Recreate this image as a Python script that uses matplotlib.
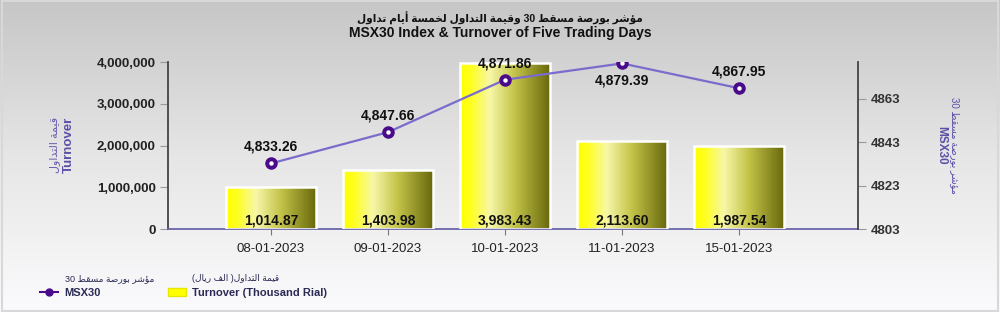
import re
import numpy as np
import matplotlib
matplotlib.use('Agg')
import matplotlib.pyplot as plt
from matplotlib.lines import Line2D
from matplotlib.patches import Patch, Rectangle

plt.rcParams['font.family'] = ['Liberation Sans', 'DejaVu Sans']

# data
dates = ['08-01-2023', '09-01-2023', '10-01-2023', '11-01-2023', '15-01-2023']
turnover = [1014870, 1403980, 3983430, 2113600, 1987540]
msx30 = [4833.26, 4847.66, 4871.86, 4879.39, 4867.95]
left_ticks = [0, 1000000, 2000000, 3000000, 4000000]
right_ticks = [4803, 4823, 4843, 4863]

# tiny arabic shaper (isolated, final, initial, medial)
FORMS = {
    'ا': (0xFE8D, 0xFE8E), 'أ': (0xFE83, 0xFE84), 'ؤ': (0xFE85, 0xFE86),
    'ة': (0xFE93, 0xFE94), 'د': (0xFEA9, 0xFEAA), 'ر': (0xFEAD, 0xFEAE),
    'و': (0xFEED, 0xFEEE),
    'ب': (0xFE8F, 0xFE90, 0xFE91, 0xFE92), 'ت': (0xFE95, 0xFE96, 0xFE97, 0xFE98),
    'خ': (0xFEA5, 0xFEA6, 0xFEA7, 0xFEA8), 'س': (0xFEB1, 0xFEB2, 0xFEB3, 0xFEB4),
    'ش': (0xFEB5, 0xFEB6, 0xFEB7, 0xFEB8), 'ص': (0xFEB9, 0xFEBA, 0xFEBB, 0xFEBC),
    'ط': (0xFEC1, 0xFEC2, 0xFEC3, 0xFEC4), 'ف': (0xFED1, 0xFED2, 0xFED3, 0xFED4),
    'ق': (0xFED5, 0xFED6, 0xFED7, 0xFED8), 'ل': (0xFEDD, 0xFEDE, 0xFEDF, 0xFEE0),
    'م': (0xFEE1, 0xFEE2, 0xFEE3, 0xFEE4), 'ن': (0xFEE5, 0xFEE6, 0xFEE7, 0xFEE8),
    'ي': (0xFEF1, 0xFEF2, 0xFEF3, 0xFEF4),
}


def ar(s):
    out = []
    n = len(s)
    for i, c in enumerate(s):
        if c not in FORMS:
            out.append(c)
            continue
        p = i > 0 and s[i - 1] in FORMS and len(FORMS[s[i - 1]]) == 4
        q = i < n - 1 and s[i + 1] in FORMS and len(FORMS[c]) == 4
        k = 3 if (p and q) else 1 if p else 2 if q else 0
        out.append(chr(FORMS[c][k]))
    parts = re.split(r'(\d+)', ''.join(out))
    res = ''
    for part in parts[::-1]:
        if part.isdigit():
            res += part
        else:
            res += part[::-1].translate(str.maketrans('()', ')('))
    return res


fig = plt.figure(figsize=(10, 3.12), dpi=100)

# background gradient
bg = fig.add_axes([0, 0, 1, 1], zorder=-10)
grad = np.linspace(0, 1, 256).reshape(-1, 1)
bg.imshow(grad, aspect='auto', cmap=matplotlib.colors.LinearSegmentedColormap.from_list(
    'bg', ['#c6c6c6', '#e6e6e6', '#fbfbfd']), extent=[0, 1, 0, 1])
bg.add_patch(Rectangle((0.002, 0.004), 0.996, 0.992, fill=False, ec='#d8d8d8', lw=1.5))
bg.set_axis_off()

ax = fig.add_axes([0.168, 0.266, 0.690, 0.535])
ax.set_facecolor('none')
x = np.arange(len(dates))

bars = ax.bar(x, turnover, width=0.77, facecolor='none', edgecolor='white', lw=1.8, zorder=3)
bar_cmap = matplotlib.colors.LinearSegmentedColormap.from_list(
    'bar', [(0, '#ffff00'), (0.12, '#ffff20'), (0.33, '#f7f7a8'), (0.6, '#c4c44a'), (1, '#66660a')])
hgrad = np.linspace(0, 1, 256).reshape(1, -1)
for b in bars:
    im = ax.imshow(hgrad, cmap=bar_cmap, aspect='auto', zorder=2,
                   extent=[b.get_x(), b.get_x() + b.get_width(), 0, b.get_height()])
    im.set_clip_path(b)
for i, v in enumerate(turnover):
    ax.annotate(f'{v / 1000:,.2f}', (x[i], 0), xytext=(0, 1), textcoords='offset points',
                ha='center', va='bottom', fontsize=10, fontweight='bold', color='#111', zorder=5)

ax.set_xlim(-0.88, 5.017)
ax.set_ylim(0, 4000000)
ax.set_yticks(left_ticks)
ax.set_yticklabels([f'{t:,}' for t in left_ticks], fontsize=9.5, fontweight='bold', color='#222')
ax.set_xticks(x)
ax.set_xticklabels(dates, fontsize=9.5, color='#222')
ax.tick_params(axis='y', length=6, color='#999', pad=3)
ax.tick_params(axis='x', length=4, color='#777', pad=6)
ax.spines['top'].set_visible(False)
ax.spines['right'].set_visible(False)
ax.spines['left'].set_color('#444')
ax.spines['left'].set_linewidth(1.3)
ax.spines['bottom'].set_color('#6a66aa')
ax.spines['bottom'].set_linewidth(1.3)

ax2 = ax.twinx()
ax2.plot(x, msx30, color='#7a6ccc', lw=1.6, zorder=4)
ax2.plot(x, msx30, 'o', color='#4a0a8a', ms=8, zorder=5)
ax2.plot(x, msx30, 'o', color='white', ms=2.2, zorder=6)
for i, v in enumerate(msx30):
    below = i == 3
    ax2.annotate(f'{v:,.2f}', (x[i], v), xytext=(0, -7 if below else 7), textcoords='offset points',
                 ha='center', va='top' if below else 'bottom', fontsize=10, fontweight='bold',
                 color='#111', zorder=7)
ax2.set_ylim(4803, 4880)
ax2.set_yticks(right_ticks)
ax2.set_yticklabels([str(t) for t in right_ticks], fontsize=9.5, fontweight='bold', color='#333')
ax2.tick_params(axis='y', length=6, color='#999', pad=3)
for s in ['top', 'left', 'bottom']:
    ax2.spines[s].set_visible(False)
ax2.spines['right'].set_color('#444')
ax2.spines['right'].set_linewidth(1.3)

# titles and axis labels
fig.text(0.5, 0.942, ar('مؤشر بورصة مسقط 30 وقيمة التداول لخمسة أيام تداول'), ha='center', va='center',
         fontsize=7.6, fontweight='bold', color='#111')
fig.text(0.5, 0.893, 'MSX30 Index & Turnover of Five Trading Days', ha='center', va='center',
         fontsize=10, fontweight='bold', color='#111')
fig.text(0.055, 0.535, ar('قيمة التداول'), rotation=90, ha='center', va='center', fontsize=8, color='#6a60b0')
fig.text(0.069, 0.535, 'Turnover', rotation=90, ha='center', va='center', fontsize=9.5,
         fontweight='bold', color='#5a50a8')
fig.text(0.955, 0.535, ar('مؤشر بورصة مسقط 30'), rotation=-90, ha='center', va='center', fontsize=7,
         color='#5a50a8')
fig.text(0.941, 0.535, 'MSX30', rotation=-90, ha='center', va='center', fontsize=8.5,
         fontweight='bold', color='#5a50a8')

# legend: handles + english line from legend, arabic line placed above
legend_items = [
    (Line2D([], [], color='#4a0a8a', lw=1.5, marker='o', ms=5), 'MSX30',
     ar('مؤشر بورصة مسقط 30'), 0.032),
    (Patch(facecolor='#ffff00', edgecolor='#e6e600'), 'Turnover (Thousand Rial)',
     ar('قيمة التداول( الف ريال)'), 0.16),
]
for h, lab, lab_ar, x0 in legend_items:
    leg = fig.legend([h], [lab], loc='center left', bbox_to_anchor=(x0, 0.062), frameon=False,
                     handlelength=1.6, handletextpad=0.6, borderpad=0.2,
                     prop={'size': 8, 'weight': 'bold'})
    for t in leg.get_texts():
        t.set_color('#2a2a55')
fig.text(0.065, 0.106, legend_items[0][2], fontsize=6.5, color='#2a2a55', va='center', ha='left')
fig.text(0.192, 0.106, legend_items[1][2], fontsize=6.5, color='#2a2a55', va='center', ha='left')

fig.savefig('out.png', dpi=100)
